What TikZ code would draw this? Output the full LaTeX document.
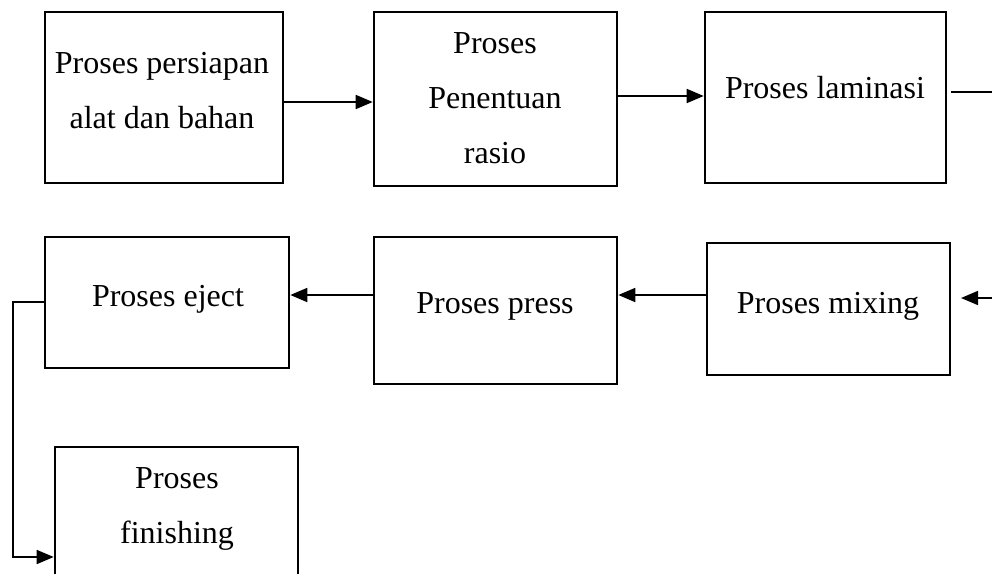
\documentclass[tikz,border=0pt]{standalone}
\usepackage{fontspec}
\setmainfont{Liberation Serif}
\usetikzlibrary{arrows.meta}
\begin{document}
\begin{tikzpicture}[x=1pt,y=-1pt,
  lbl/.style={anchor=base, inner sep=0pt, font=\fontsize{32}{38}\selectfont},
  conn/.style={line width=1.7pt},
  arr/.style={conn, -{Triangle[length=17pt,width=14pt]}}]
\useasboundingbox (0,0) rectangle (992,573);
% boxes
\node[draw, line width=2.6pt, inner sep=0pt, minimum width=238pt, minimum height=171pt] (b1) at (164,97.5) {};
\node[draw, line width=2.6pt, inner sep=0pt, minimum width=243pt, minimum height=174pt] (b2) at (495.5,99) {};
\node[draw, line width=2.6pt, inner sep=0pt, minimum width=241pt, minimum height=171pt] (b3) at (825.5,97.5) {};
\node[draw, line width=2.6pt, inner sep=0pt, minimum width=244pt, minimum height=131pt] (b4) at (167,302.5) {};
\node[draw, line width=2.6pt, inner sep=0pt, minimum width=243pt, minimum height=147pt] (b5) at (495.5,310.5) {};
\node[draw, line width=2.6pt, inner sep=0pt, minimum width=243pt, minimum height=132pt] (b6) at (828.5,309) {};
\node[draw, line width=2.6pt, inner sep=0pt, minimum width=243pt, minimum height=160pt] (b7) at (176.5,527) {};
% texts
\node[lbl] (t1a) at (162,73) {Proses persiapan};
\node[lbl] (t1b) at (162,128) {alat dan bahan};
\node[lbl] (t2a) at (495,53) {Proses};
\node[lbl] (t2b) at (495,108) {Penentuan};
\node[lbl] (t2c) at (495,163) {rasio};
\node[lbl] (t3) at (825,98) {Proses laminasi};
\node[lbl] (t4) at (168,306) {Proses eject};
\node[lbl] (t5) at (495,313) {Proses press};
\node[lbl] (t6) at (828,313) {Proses mixing};
\node[lbl] (t7a) at (177,488) {Proses};
\node[lbl] (t7b) at (177,543) {finishing};
% connectors
\coordinate (r1) at (992,92);
\coordinate (r2) at (992,298);
\coordinate (m2) at (961,298);
\coordinate (c1) at (13,302);
\coordinate (c2) at (13,557);
\draw[arr] (b1.east |- 0,102) -- (b2.west |- 0,102);
\draw[arr] (b2.east |- 0,96) -- (b3.west |- 0,96);
\draw[conn] ([xshift=4pt]b3.east |- r1) -- (r1);
\draw[arr] (r2) -- (m2);
\draw[arr] (b6.west |- 0,295) -- (b5.east |- 0,295);
\draw[arr] (b5.west |- 0,295) -- (b4.east |- 0,295);
\draw[arr] (b4.west |- c1) -- (c1) -- (c2) -- (b7.west |- c2);
\end{tikzpicture}
\end{document}
